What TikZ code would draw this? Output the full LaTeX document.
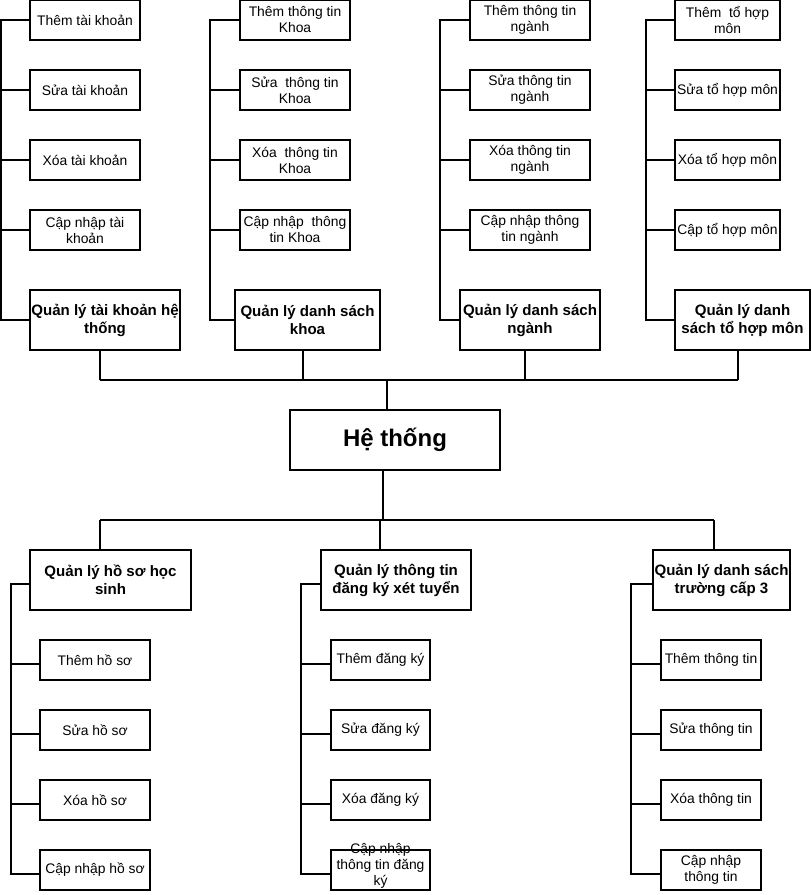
\documentclass[tikz,border=0pt]{standalone}
\usepackage{fontspec}
\setmainfont{Liberation Sans}
\usetikzlibrary{positioning}

\begin{document}
\begin{tikzpicture}[
  x=0.75pt, y=-0.75pt,
  node distance=22.5pt,
  task/.style={rectangle, draw, line width=0.8pt, inner sep=1pt, outer sep=0pt,
    minimum width=#1, minimum height=30pt, align=center,
    font=\fontsize{10.4}{12}\selectfont},
  task/.default=82.5pt,
  group/.style={rectangle, draw, line width=0.8pt, inner sep=1pt, outer sep=0pt,
    minimum width=#1, minimum height=45pt, align=center,
    font=\bfseries\fontsize{11.3}{13.5}\selectfont},
  sys/.style={rectangle, draw, line width=0.8pt, outer sep=0pt,
    minimum width=157.5pt, minimum height=45pt,
    font=\bfseries\fontsize{18}{21}\selectfont},
  link/.style={draw, line width=0.8pt}
]
\useasboundingbox (0,0) rectangle (811,895);

% Top: tai khoan
\node[task] (t1-1) at (85,20) {Thêm tài khoản};
\node[task, below=of t1-1] (t1-2) {Sửa tài khoản};
\node[task, below=of t1-2] (t1-3) {Xóa tài khoản};
\node[task, below=of t1-3] (t1-4) {Cập nhập tài\\khoản};
\node[group=112.5pt] (g1) at (105,320) {Quản lý tài khoản hệ\\thống};

% Top: khoa
\node[task] (t2-1) at (295,20) {Thêm thông tin\\Khoa};
\node[task, below=of t2-1] (t2-2) {Sửa\ \ thông tin\\Khoa};
\node[task, below=of t2-2] (t2-3) {Xóa\ \ thông tin\\Khoa};
\node[task, below=of t2-3] (t2-4) {Cập nhập\ \ thông\\tin Khoa};
\node[group=108.75pt] (g2) at (307.5,320) {Quản lý danh sách\\khoa};

% Top: nganh
\node[task=90pt] (t3-1) at (530,20) {Thêm thông tin\\ngành};
\node[task=90pt, below=of t3-1] (t3-2) {Sửa thông tin\\ngành};
\node[task=90pt, below=of t3-2] (t3-3) {Xóa thông tin\\ngành};
\node[task=90pt, below=of t3-3] (t3-4) {Cập nhập thông\\tin ngành};
\node[group=105pt] (g3) at (530,320) {Quản lý danh sách\\ngành};

% Top: to hop mon
\node[task=78.75pt] (t4-1) at (727.5,20) {Thêm\ \ tổ hợp\\môn};
\node[task=78.75pt, below=of t4-1] (t4-2) {Sửa tổ hợp môn};
\node[task=78.75pt, below=of t4-2] (t4-3) {Xóa tổ hợp môn};
\node[task=78.75pt, below=of t4-3] (t4-4) {Cập tổ hợp môn};
\node[group=101.25pt] (g4) at (742.5,320) {Quản lý danh\\sách tổ hợp môn};

% Root
\node[sys] (root) at (395,440) {Hệ thống};

% Bottom headers
\node[group=120.75pt] (b1) at (110.5,580) {Quản lý hồ sơ học\\sinh};
\node[group=112.5pt] (b2) at (396,580) {Quản lý thông tin\\đăng ký xét tuyển};
\node[group=102.75pt] (b3) at (721.5,580) {Quản lý danh sách\\trường cấp 3};

% Bottom: ho so
\node[task] (c1-1) at (95,660) {Thêm hồ sơ};
\node[task, below=of c1-1] (c1-2) {Sửa hồ sơ};
\node[task, below=of c1-2] (c1-3) {Xóa hồ sơ};
\node[task, below=of c1-3] (c1-4) {Cập nhập hồ sơ};

% Bottom: dang ky
\node[task=74.25pt] (c2-1) at (380.5,660) {Thêm đăng ký};
\node[task=74.25pt, below=of c2-1] (c2-2) {Sửa đăng ký};
\node[task=74.25pt, below=of c2-2] (c2-3) {Xóa đăng ký};
\node[task=74.25pt, below=of c2-3] (c2-4)
  {\smash{\begin{tabular}{@{}c@{}}Cập nhập\\thông tin đăng\\ký\end{tabular}}};

% Bottom: truong cap 3
\node[task=75pt] (c3-1) at (711,660) {Thêm thông tin};
\node[task=75pt, below=of c3-1] (c3-2) {Sửa thông tin};
\node[task=75pt, below=of c3-2] (c3-3) {Xóa thông tin};
\node[task=75pt, below=of c3-3] (c3-4) {Cập nhập\\thông tin};

% Spines
\coordinate (s1) at (1,0);
\coordinate (s2) at (210,0);
\coordinate (s3) at (440,0);
\coordinate (s4) at (646,0);
\coordinate (u1) at (11,0);
\coordinate (u2) at (301,0);
\coordinate (u3) at (631,0);

\foreach \g in {1,...,4} {
  \draw[link] (t\g-1.west) -| (s\g |- g\g.west) -- (g\g.west);
  \foreach \n in {2,3,4}
    \draw[link] (t\g-\n.west) -- (s\g |- t\g-\n.west);
}
\foreach \g in {1,2,3} {
  \draw[link] ([yshift=-3pt]b\g.west) -| ([yshift=-3pt]u\g |- c\g-4.west)
    -- ([yshift=-3pt]c\g-4.west);
  \foreach \n in {1,2,3}
    \draw[link] ([yshift=-3pt]c\g-\n.west) -- ([yshift=-3pt]u\g |- c\g-\n.west);
}

% Buses
\coordinate (tb0) at (387,380);
\coordinate (tb1) at (100,380);
\coordinate (tb2) at (303,380);
\coordinate (tb3) at (525,380);
\coordinate (tb4) at (738,380);
\draw[link] (tb1) -- (tb4);
\draw[link] (tb0) -- (tb0 |- root.north);
\foreach \g in {1,...,4}
  \draw[link] (tb\g |- g\g.south) -- (tb\g);

\coordinate (bb0) at (383,520);
\coordinate (bb1) at (100,520);
\coordinate (bb2) at (380,520);
\coordinate (bb3) at (714,520);
\draw[link] (bb1) -- (bb3);
\draw[link] (root.south -| bb0) -- (bb0);
\foreach \g in {1,2,3}
  \draw[link] (bb\g) -- (bb\g |- b\g.north);

\end{tikzpicture}
\end{document}
